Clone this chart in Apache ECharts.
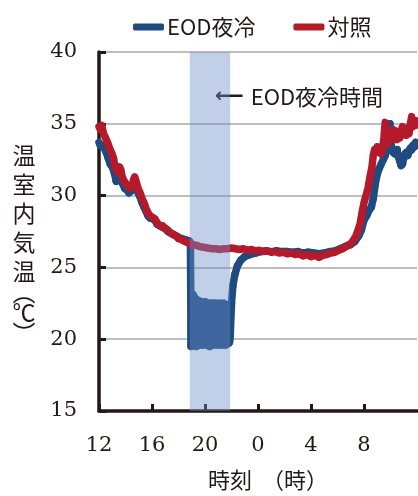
<!DOCTYPE html>
<html>
<head>
<meta charset="utf-8">
<script src="https://cdn.jsdelivr.net/npm/echarts@6/dist/echarts.min.js"></script>
<style>
  html, body { margin: 0; padding: 0; background: #ffffff; }
  #chart { width: 418px; height: 496px; }
</style>
</head>
<body>
<div id="chart"></div>
<script>
// Hours elapsed since 12:00 on day one; clock labels for every 4-hour tick.
const xTickLabels = ['12', '16', '20', '0', '4', '8'];
const coolingWindow = [6.85, 9.9]; // EOD night-cooling period (hours since 12:00)

// Control greenhouse (対照)
const redHours = [
  0.0, 0.1, 0.2, 0.35, 0.5, 0.65, 0.8, 0.95, 1.1, 1.2, 1.35, 1.45, 1.55, 1.65, 1.75, 1.9,
  2.05, 2.2, 2.35, 2.5, 2.6, 2.7, 2.8, 2.95, 3.1, 3.25, 3.4, 3.55, 3.7, 3.85, 4.0, 4.2,
  4.4, 4.6, 4.8, 5.0, 5.2, 5.4, 5.6, 5.8, 6.0, 6.2, 6.4, 6.6, 6.8, 7.0, 7.3, 7.6,
  7.9, 8.2, 8.5, 8.8, 9.1, 9.4, 9.7, 10.0, 10.3, 10.6, 10.9, 11.2, 11.5, 11.8, 12.1, 12.4,
  12.7, 13.0, 13.3, 13.6, 13.9, 14.2, 14.5, 14.8, 15.1, 15.4, 15.7, 16.0, 16.3, 16.6, 16.9, 17.2,
  17.5, 17.8, 18.1, 18.4, 18.7, 19.0, 19.2, 19.4, 19.55, 19.7, 19.85, 20.0, 20.15, 20.3, 20.45, 20.6,
  20.7, 20.8, 20.9, 21.0, 21.1, 21.2, 21.3, 21.4, 21.5, 21.6, 21.7, 21.8, 21.9, 22.0, 22.1, 22.2,
  22.3, 22.4, 22.5, 22.6, 22.7, 22.8, 22.9, 23.0, 23.1, 23.2, 23.3, 23.4, 23.5, 23.6, 23.7, 23.8,
  23.9, 24.0
];
const redTemp = [
  34.8, 34.6, 34.9, 34.3, 34.0, 33.7, 33.3, 33.0, 32.6, 32.0, 31.8, 31.6, 32.0, 31.8, 31.3, 31.0,
  30.8, 30.7, 30.5, 30.7, 31.1, 31.3, 31.0, 30.5, 30.2, 29.8, 29.5, 29.1, 28.8, 28.6, 28.5, 28.4,
  28.1, 27.9, 27.9, 27.7, 27.6, 27.4, 27.3, 27.2, 27.0, 26.95, 26.85, 26.75, 26.7, 26.6, 26.55, 26.45,
  26.4, 26.35, 26.3, 26.3, 26.25, 26.3, 26.3, 26.35, 26.3, 26.25, 26.3, 26.2, 26.25, 26.15, 26.2, 26.1,
  26.15, 26.05, 26.1, 26.0, 26.05, 25.95, 26.0, 25.9, 25.95, 25.8, 25.9, 25.75, 25.85, 25.7, 25.85, 25.9,
  26.0, 26.05, 26.2, 26.3, 26.5, 26.65, 26.9, 27.2, 27.6, 28.0, 28.8, 29.5, 30.0, 30.5, 31.3, 32.0,
  32.8, 33.2, 33.0, 33.4, 33.1, 33.3, 32.9, 33.2, 34.0, 35.1, 34.6, 33.6, 33.8, 34.3, 34.0, 34.6,
  34.3, 34.5, 33.9, 34.2, 34.0, 34.5, 34.8, 34.4, 34.7, 34.2, 34.5, 34.3, 35.0, 35.5, 34.8, 35.1,
  34.9, 35.2
];

// EOD night-cooled greenhouse (EOD夜冷)
const blueHours = [
  0.0, 0.1, 0.25, 0.4, 0.55, 0.7, 0.85, 1.0, 1.15, 1.3, 1.45, 1.55, 1.65, 1.8, 1.95, 2.1,
  2.25, 2.4, 2.55, 2.7, 2.8, 2.95, 3.1, 3.25, 3.4, 3.55, 3.7, 3.85, 4.0, 4.2, 4.4, 4.6,
  4.8, 5.0, 5.2, 5.4, 5.6, 5.8, 6.0, 6.2, 6.4, 6.6, 6.8, 6.9,
  6.95, 7.0, 7.05, 7.1, 7.15, 7.2, 7.25, 7.3, 7.35, 7.4, 7.45, 7.5, 7.55, 7.6, 7.65, 7.7,
  7.75, 7.8, 7.85, 7.9, 7.95, 8.0, 8.05, 8.1, 8.15, 8.2, 8.25, 8.3, 8.35, 8.4, 8.45, 8.5,
  8.55, 8.6, 8.65, 8.7, 8.75, 8.8, 8.85, 8.9, 8.95, 9.0, 9.05, 9.1, 9.15, 9.2, 9.25, 9.3,
  9.35, 9.4, 9.45, 9.5, 9.55, 9.6, 9.65, 9.7, 9.75, 9.8, 9.85, 9.9,
  10.0, 10.1, 10.25, 10.45, 10.7, 11.0, 11.4, 11.8, 12.2, 12.6, 13.0, 13.4, 13.8, 14.2, 14.6, 15.0,
  15.4, 15.8, 16.2, 16.6, 17.0, 17.4, 17.8, 18.2, 18.6, 19.0, 19.3, 19.6, 19.8, 20.0, 20.2, 20.4,
  20.55, 20.7, 20.85, 21.0, 21.15, 21.3, 21.45, 21.6, 21.7, 21.8, 21.9, 21.95, 22.0, 22.1, 22.2, 22.35,
  22.5, 22.6, 22.7, 22.8, 22.9, 23.0, 23.1, 23.2, 23.3, 23.4, 23.5, 23.6, 23.7, 23.8, 23.9, 24.0
];
const blueTemp = [
  33.7, 33.5, 33.5, 33.3, 33.0, 32.6, 32.2, 32.0, 31.6, 31.0, 31.1, 31.5, 31.2, 30.8, 30.5, 30.4,
  30.2, 30.3, 30.6, 30.9, 30.7, 30.2, 29.9, 29.5, 29.2, 28.9, 28.6, 28.45, 28.4, 28.3, 28.0, 27.9,
  27.8, 27.7, 27.5, 27.4, 27.3, 27.2, 27.1, 27.0, 26.95, 26.9, 26.85, 26.7,
  19.5, 23.0, 19.7, 23.1, 19.6, 22.9, 19.8, 22.8, 19.5, 22.6, 19.7, 22.7, 19.9, 22.5, 19.6, 22.6,
  19.8, 22.4, 19.6, 22.5, 19.7, 22.6, 19.9, 22.4, 19.6, 22.5, 19.8, 22.4, 19.5, 22.5, 19.7, 22.3,
  19.9, 22.5, 19.6, 22.4, 19.8, 22.5, 19.7, 22.3, 19.6, 22.4, 19.8, 22.5, 19.9, 22.4, 19.6, 22.3,
  19.7, 22.5, 19.8, 22.4, 19.6, 22.3, 19.9, 22.4, 19.7, 22.2, 19.8, 20.2,
  22.5, 23.7, 24.5, 25.1, 25.5, 25.75, 25.9, 26.0, 26.1, 26.15, 26.1, 26.15, 26.1, 26.1, 26.05, 26.1,
  26.0, 26.05, 26.0, 25.95, 26.0, 26.1, 26.15, 26.3, 26.45, 26.6, 26.8, 27.2, 27.6, 28.3, 28.6, 29.0,
  29.2, 29.8, 30.8, 31.5, 31.9, 32.2, 32.5, 32.8, 33.2, 33.5, 34.6, 35.0, 34.0, 33.2, 33.0, 32.9,
  33.2, 32.7, 32.4, 32.1, 32.2, 32.6, 32.9, 33.0, 32.8, 33.1, 33.3, 33.2, 33.5, 33.4, 33.7, 33.6
];

const zip = (xs, ys) => xs.map((x, i) => [x, ys[i]]);
// consecutive reading pairs [t0, v0, t1, v1], each stroked on its own so the
// rapid oscillation during cooling renders as a solid band of trace
const toSegments = (xs, ys) => xs.slice(0, -1).map((x, i) => [x, ys[i], xs[i + 1], ys[i + 1]]);

const jpFont = '"Noto Sans CJK JP", "Noto Sans", sans-serif';
const numFont = '"DejaVu Serif", "Liberation Serif", serif';
const ink = '#231815';
const blue = '#1f4b80';
const red = '#b41a2a';

const chart = echarts.init(document.getElementById('chart'), null, { renderer: 'canvas' });

// Full-height translucent rectangle spanning the cooling window
function renderBand(params, api) {
  const start = api.coord([api.value(0), 40]);
  const end = api.coord([api.value(1), 15]);
  return {
    type: 'rect',
    shape: { x: start[0], y: start[1], width: end[0] - start[0], height: end[1] - start[1] },
    style: { fill: 'rgba(110,140,202,0.42)' },
    silent: true
  };
}

function renderSegment(params, api) {
  const p0 = api.coord([api.value(0), api.value(1)]);
  const p1 = api.coord([api.value(2), api.value(3)]);
  return {
    type: 'line',
    shape: { x1: p0[0], y1: p0[1], x2: p1[0], y2: p1[1] },
    style: { stroke: blue, lineWidth: 7.5, lineCap: 'round' },
    silent: true
  };
}

chart.setOption({
  animation: false,
  backgroundColor: '#ffffff',
  grid: { left: 99, right: 1, top: 52, bottom: 76, containLabel: false },
  legend: {
    data: ['EOD夜冷', '対照'],
    left: 128,
    top: 11,
    icon: 'roundRect',
    itemWidth: 31,
    itemHeight: 7,
    itemGap: 38,
    textStyle: { fontFamily: jpFont, fontSize: 22, color: ink, padding: [0, 0, 0, -2] }
  },
  xAxis: {
    type: 'value',
    min: 0,
    max: 24,
    interval: 4,
    axisLine: { show: true, onZero: false, lineStyle: { color: ink, width: 3.5 } },
    axisTick: { show: true, inside: true, length: 7, lineStyle: { color: ink, width: 3 } },
    splitLine: { show: false },
    axisLabel: {
      showMaxLabel: false,
      margin: 24,
      fontFamily: numFont,
      fontSize: 21,
      color: ink,
      formatter: (v) => xTickLabels[Math.round(v / 4)] ?? ''
    },
    name: '時刻  （時）',
    nameLocation: 'middle',
    nameGap: 58,
    nameTextStyle: { fontFamily: jpFont, fontSize: 22, color: ink, padding: [0, 0, 0, 20] }
  },
  yAxis: {
    type: 'value',
    min: 15,
    max: 40,
    interval: 5,
    axisLine: { show: true, lineStyle: { color: ink, width: 3.5 } },
    axisTick: { show: true, inside: true, length: 7, lineStyle: { color: ink, width: 3 } },
    splitLine: { show: true, lineStyle: { color: '#a8a8a8', width: 1.5 } },
    axisLabel: { margin: 22, fontFamily: numFont, fontSize: 21, color: ink, padding: [9, 0, 0, 0] }
  },
  graphic: [
    {
      type: 'text',
      x: 24,
      y: 240,
      style: {
        text: '{a|温}\n{a|室}\n{a|内}\n{a|気}\n{a|温}\n{p|︵}\n{a|℃}\n{p|︶}',
        align: 'center',
        verticalAlign: 'middle',
        fill: ink,
        rich: {
          a: { fontFamily: jpFont, fontSize: 23, lineHeight: 29, fill: ink, align: 'center' },
          p: { fontFamily: jpFont, fontSize: 23, lineHeight: 12, fill: ink, align: 'center' }
        }
      }
    },
    {
      type: 'text',
      x: 215,
      y: 97,
      style: {
        text: '{arr|⟵}{t|EOD夜冷時間}',
        verticalAlign: 'middle',
        fill: ink,
        rich: {
          arr: { fontFamily: '"DejaVu Sans", sans-serif', fontSize: 20, fontWeight: 'bold', fill: ink },
          t: { fontFamily: jpFont, fontSize: 22, fill: ink, padding: [0, 0, 0, 7] }
        }
      }
    }
  ],
  series: [
    {
      name: 'EOD夜冷',
      type: 'custom',
      data: toSegments(blueHours, blueTemp),
      encode: { x: [0, 2], y: [1, 3] },
      renderItem: renderSegment,
      itemStyle: { color: blue },
      silent: true,
      z: 2
    },
    {
      name: '対照',
      type: 'line',
      data: zip(redHours, redTemp),
      showSymbol: false,
      symbol: 'none',
      color: red,
      lineStyle: { width: 7.5, color: red, join: 'round', cap: 'round' },
      z: 3
    },
    {
      type: 'custom',
      data: [coolingWindow],
      renderItem: renderBand,
      silent: true,
      z: 10
    }
  ]
});
</script>
</body>
</html>
